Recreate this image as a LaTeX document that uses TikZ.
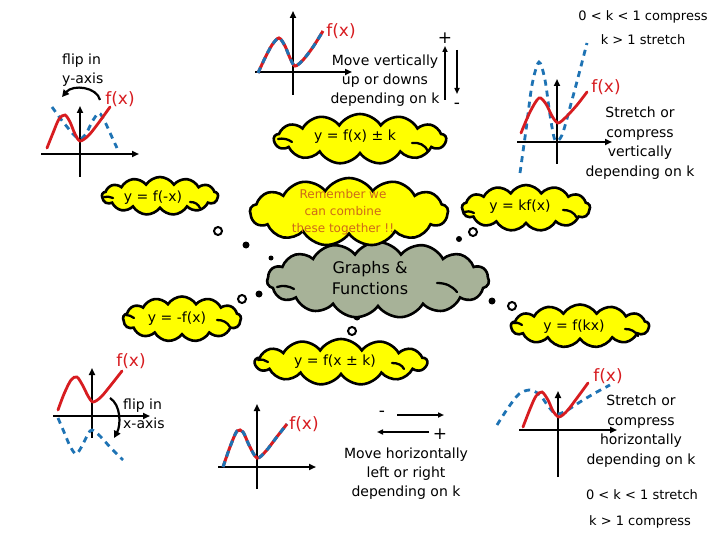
\documentclass[tikz,border=0pt]{standalone}
\usepackage{fontspec}
\setmainfont{DejaVu Sans}
\usetikzlibrary{shapes.symbols,arrows.meta}
\definecolor{cyel}{RGB}{255,255,0}
\definecolor{cgrey}{RGB}{167,178,152}
\definecolor{cred}{RGB}{215,28,32}
\definecolor{cblue}{RGB}{30,115,180}
\definecolor{corange}{RGB}{205,105,25}
\tikzset{
  ycloud/.style={cloud, cloud puffs=13, cloud puff arc=115, cloud ignores aspect, draw=black, line width=2.6pt, fill=cyel, inner sep=0pt, font=\fontsize{14}{16}\selectfont},
  gcloud/.style={ycloud, fill=cgrey, cloud puffs=15},
  ctext/.style={inner sep=0pt, font=\fontsize{14}{16}\selectfont},
  expl/.style={inner sep=0pt, align=center, font=\fontsize{14}{19}\selectfont},
  kline/.style={inner sep=0pt, align=center, font=\fontsize{13}{19}\selectfont},
  fx/.style={inner sep=0pt, text=cred, font=\fontsize{17}{18}\selectfont},
  axis/.style={line width=1.7pt, -{Triangle[length=7pt,width=6pt]}},
  redc/.style={cred, line width=2.8pt, line cap=round},
  bluedash/.style={cblue, line width=2.8pt, dash pattern=on 6pt off 5pt},
  mixc/.style={cred, line width=3pt},
  opendot/.style={draw=black, line width=2pt, fill=white},
  fulldot/.style={fill=black},
  curl/.style={line width=2.3pt, line cap=round},
  bentarrow/.style={line width=2.2pt, -{Triangle[length=7pt,width=7pt]}},
  plainarrow/.style={line width=1.5pt, -{Triangle[length=6pt,width=5pt]}}
}
\begin{document}
\begin{tikzpicture}[x=1pt,y=-1pt]
\useasboundingbox (0,0) rectangle (720,540);

% ---------- thought dots ----------
\draw[opendot] (218,231) circle (4);
\fill[fulldot] (246,245) circle (3.5);
\fill[fulldot] (271,258) circle (2.5);
\draw[opendot] (242,299) circle (4);
\fill[fulldot] (259,294) circle (3.5);
\fill[fulldot] (360,308) circle (2.5);
\fill[fulldot] (357,317) circle (3.5);
\draw[opendot] (352,331) circle (4);
\fill[fulldot] (459,239) circle (3);
\draw[opendot] (473,232) circle (4);
\fill[fulldot] (473,295) circle (2.5);
\fill[fulldot] (492,301) circle (3.5);
\draw[opendot] (512,306) circle (4);

% ---------- clouds ----------
\node[gcloud, minimum width=222pt, minimum height=76pt] (graphs) at (378,280) {};
\draw[curl] (277,287) .. controls (283,285) and (289,286) .. (294,289);
\draw[curl] (437,283) .. controls (446,283) and (452,286) .. (457,292);
\node[ctext, align=center, font=\fontsize{16}{21}\selectfont] (graphsT) at (370,278) {Graphs \&\\Functions};

\node[ycloud, minimum width=172pt, minimum height=50pt] (shiftv) at (360,139) {};
\draw[curl] (278,139) .. controls (283,138) and (288,139) .. (292,142);
\draw[curl] (412,143) .. controls (419,142) and (425,145) .. (428,151);
\node[ctext] (shiftvT) at (355,137) {y = f(x) ± k};

\node[ycloud, minimum width=198pt, minimum height=68pt] (remember) at (349,212) {};
\node[ctext, align=center, text=corange, font=\fontsize{12}{17}\selectfont] (rememberT) at (343,212) {Remember we\\can combine\\these together !!};

\node[ycloud, minimum width=116pt, minimum height=38pt] (flipy) at (160,196) {};
\draw[curl] (104,197) .. controls (107,196) and (110,197) .. (113,198);
\draw[curl] (190,202) .. controls (195,202) and (198,204) .. (200,208);
\node[ctext] (flipyT) at (153,198) {y = f(-x)};

\node[ycloud, minimum width=128pt, minimum height=46pt] (kfx) at (526,208) {};
\draw[curl] (464,212) .. controls (467,211) and (470,211) .. (474,213);
\draw[curl] (563,210) .. controls (569,210) and (574,212) .. (577,218);
\node[ctext] (kfxT) at (520,207) {y = kf(x)};

\node[ycloud, minimum width=118pt, minimum height=45pt] (flipx) at (182,319) {};
\draw[curl] (126,315) .. controls (129,315) and (131,316) .. (134,318);
\draw[curl] (217,320) .. controls (223,320) and (227,322) .. (230,327);
\node[ctext] (flipxT) at (177,319) {y = -f(x)};

\node[ycloud, minimum width=138pt, minimum height=43pt] (fkx) at (580,326) {};
\draw[curl] (513,323) .. controls (516,322) and (519,323) .. (522,325);
\draw[curl] (625,329) .. controls (631,329) and (635,331) .. (638,336);
\node[ctext] (fkxT) at (574,327) {y = f(kx)};

\node[ycloud, minimum width=172pt, minimum height=46pt] (shifth) at (341,362) {};
\draw[curl] (258,360) .. controls (262,359) and (265,360) .. (268,362);
\draw[curl] (392,363) .. controls (398,363) and (402,365) .. (404,369);
\node[ctext] (shifthT) at (335,362) {y = f(x ± k)};

% ---------- top-left: flip in y-axis ----------
\draw[axis] (80,177) -- (80,106);
\draw[axis] (41,154) -- (139,154);
\draw[bluedash] plot[smooth] coordinates {(52,107) (60,118) (68,128) (75,136) (80,139) (86,134) (92,122) (99,113) (105,122) (111,135) (117,148)};
\draw[redc] plot[smooth] coordinates {(47,148) (53,133) (59,119) (65,115) (70,122) (75,134) (80,141) (88,136) (97,125) (110,107)};
\draw[bentarrow] (100,100) .. controls (97,87) and (73,84) .. (62,97);
\node[expl, align=left, anchor=west] (flipyTxt) at (62,70) {flip in\\y-axis};
\node[fx] (fxA) at (120,99) {f(x)};

% ---------- top-middle: vertical shift ----------
\draw[axis] (293,95) -- (293,11);
\draw[axis] (255,72) -- (352,72);
\draw[mixc] plot[smooth] coordinates {(258,73) (265,58) (272,45) (279,38) (285,46) (290,58) (295,66) (303,60) (313,47) (323,31)};
\draw[bluedash, line width=3pt] plot[smooth] coordinates {(258,73) (265,58) (272,45) (279,38) (285,46) (290,58) (295,66) (303,60) (313,47) (323,31)};
\node[fx] (fxB) at (341,31) {f(x)};
\node[expl] (movev) at (385,81) {Move vertically\\up or downs\\depending on k};
\draw[plainarrow] (445,100) -- (445,46);
\draw[plainarrow] (457,50) -- (457,94);
\node[inner sep=0pt, font=\fontsize{17}{18}\selectfont] (plusv) at (445,38) {+};
\node[inner sep=0pt, font=\fontsize{17}{18}\selectfont] (minusv) at (457,106) {-};

% ---------- top-right: vertical stretch ----------
\draw[axis] (557,164) -- (557,79);
\draw[axis] (517,142) -- (612,142);
\draw[bluedash] plot[smooth] coordinates {(520,173) (526,130) (532,85) (539,62) (545,80) (550,115) (555,140) (562,135) (572,100) (580,70) (587,43)};
\draw[redc] plot[smooth] coordinates {(521,133) (530,112) (539,98) (546,104) (552,116) (558,123) (566,117) (577,105) (587,92)};
\node[fx] (fxC) at (606,87) {f(x)};
\node[kline] (kc1) at (643,17) {0 < k < 1 compress};
\node[kline] (kc2) at (643,40) {k > 1 stretch};
\node[expl, font=\fontsize{14}{19.7}\selectfont] (stretchv) at (640,143) {Stretch or\\compress\\vertically\\depending on k};

% ---------- bottom-left: flip in x-axis ----------
\draw[axis] (92,438) -- (92,368);
\draw[axis] (53,416) -- (150,416);
\draw[bluedash] plot[smooth] coordinates {(58,418) (64,432) (70,446) (76,454) (82,446) (88,434) (92,430) (100,436) (110,447) (123,460)};
\draw[redc] plot[smooth] coordinates {(58,410) (64,394) (71,380) (77,377) (83,386) (88,396) (93,402) (101,397) (111,385) (122,371)};
\draw[bentarrow] (110,398) .. controls (121,405) and (121,425) .. (114,438);
\node[expl, align=left, anchor=west] (flipxTxt) at (123,414) {flip in\\x-axis};
\node[fx] (fxD) at (131,361) {f(x)};

% ---------- bottom-middle: horizontal shift ----------
\draw[axis] (257,489) -- (257,404);
\draw[axis] (218,467) -- (316,467);
\draw[mixc] plot[smooth] coordinates {(223,467) (230,447) (237,431) (243,432) (249,445) (257,458) (266,451) (276,438) (287,424)};
\draw[bluedash, line width=3pt] plot[smooth] coordinates {(223,467) (230,447) (237,431) (243,432) (249,445) (257,458) (266,451) (276,438) (287,424)};
\node[fx] (fxE) at (304,424) {f(x)};
\node[inner sep=0pt, font=\fontsize{17}{18}\selectfont] (minush) at (382,414) {-};
\draw[plainarrow] (397,415) -- (444,415);
\draw[plainarrow] (429,432) -- (377,432);
\node[inner sep=0pt, font=\fontsize{17}{18}\selectfont] (plush) at (440,434) {+};
\node[expl] (moveh) at (406,474) {Move horizontally\\left or right\\depending on k};

% ---------- bottom-right: horizontal stretch ----------
\draw[axis] (558,477) -- (558,391);
\draw[axis] (519,430) -- (617,430);
\draw[bluedash] plot[smooth] coordinates {(497,425) (508,408) (519,394) (530,390) (540,395) (548,406) (556,414) (566,411) (580,402) (595,393) (610,385)};
\draw[redc] plot[smooth] coordinates {(523,427) (530,409) (536,396) (542,392) (548,400) (553,411) (559,417) (567,411) (577,398) (588,383)};
\node[fx] (fxF) at (608,376) {f(x)};
\node[expl, font=\fontsize{14}{19.7}\selectfont] (stretchh) at (641,431) {Stretch or\\compress\\horizontally\\depending on k};
\node[kline] (ks1) at (642,495) {0 < k < 1 stretch};
\node[kline] (ks2) at (640,522) {k > 1 compress};
\end{tikzpicture}
\end{document}
